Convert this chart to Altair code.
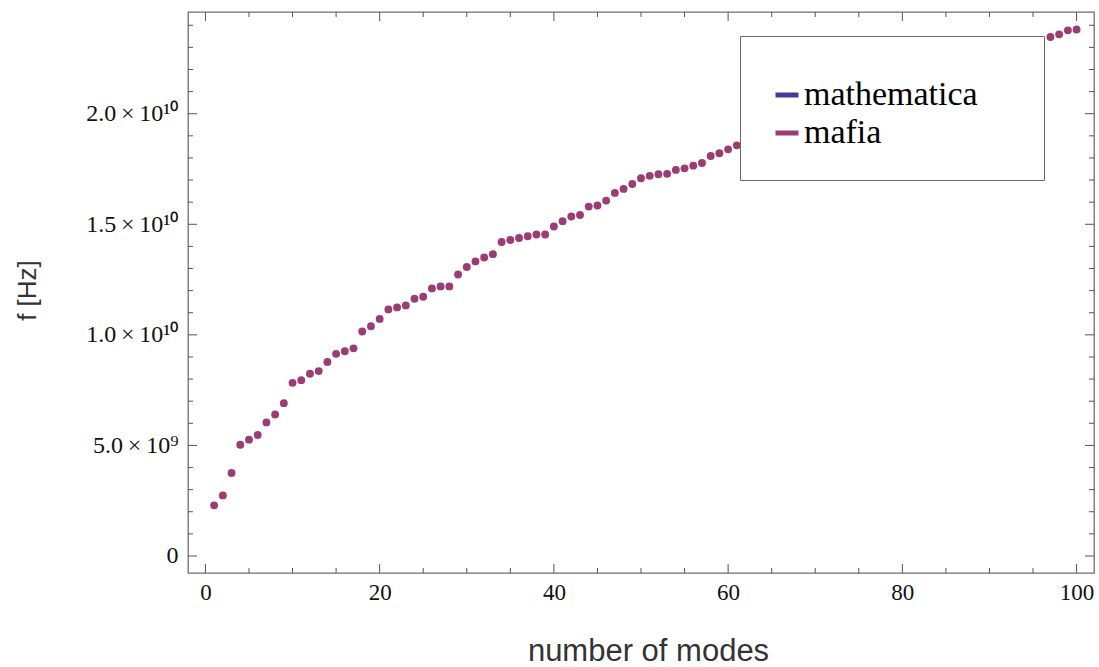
import altair as alt
import pandas as pd

# ---- data ----
modes = list(range(1, 62)) + [97, 98, 99, 100]
freq_hz = [
    2.29e9, 2.74e9, 3.75e9, 5.03e9, 5.26e9, 5.47e9, 6.04e9, 6.40e9, 6.91e9, 7.83e9,
    7.95e9, 8.24e9, 8.36e9, 8.77e9, 9.14e9, 9.26e9, 9.39e9, 10.15e9, 10.39e9, 10.72e9,
    11.15e9, 11.24e9, 11.33e9, 11.63e9, 11.72e9, 12.10e9, 12.19e9, 12.19e9, 12.73e9, 13.07e9,
    13.32e9, 13.50e9, 13.65e9, 14.20e9, 14.29e9, 14.38e9, 14.46e9, 14.54e9, 14.54e9, 14.90e9,
    15.14e9, 15.35e9, 15.42e9, 15.80e9, 15.85e9, 16.07e9, 16.42e9, 16.60e9, 16.82e9, 17.08e9,
    17.19e9, 17.26e9, 17.28e9, 17.46e9, 17.53e9, 17.65e9, 17.77e9, 18.09e9, 18.21e9, 18.39e9,
    18.57e9,
    23.47e9, 23.59e9, 23.77e9, 23.81e9,
]
series_names = ["mathematica", "mafia"]
series_colors = ["#3F3D99", "#993D74"]

x_major = [0, 20, 40, 60, 80, 100]
x_minor = [5, 10, 15, 25, 30, 35, 45, 50, 55, 65, 70, 75, 85, 90, 95]
y_major = [0, 5e9, 1e10, 1.5e10, 2e10]
y_minor = [1e9, 2e9, 3e9, 4e9, 6e9, 7e9, 8e9, 9e9, 11e9, 12e9, 13e9, 14e9,
           16e9, 17e9, 18e9, 19e9, 21e9, 22e9, 23e9, 24e9]
y_tick_labels = ["0", "5.0\u2009\u00d7\u200910\u2079", "1.0\u2009\u00d7\u200910\u00b9\u2070",
                 "1.5\u2009\u00d7\u200910\u00b9\u2070", "2.0\u2009\u00d7\u200910\u00b9\u2070"]

# ---- layout ----
W, H = 906, 561
XDOM = [-2.0, 102.0]
YDOM = [-0.77e9, 24.6e9]
MAJ, MIN = 9, 5
TICK_COLOR = "#555555"
SERIF = "Liberation Serif"
SANS = "Liberation Sans"

xs = alt.Scale(domain=XDOM, nice=False, zero=False)
ys = alt.Scale(domain=YDOM, nice=False, zero=False)

label_expr = " : ".join(
    f"datum.value == {v} ? '{t}'" for v, t in zip(y_major, y_tick_labels)
) + " : ''"

x_axis = alt.Axis(
    values=x_major, ticks=False, domain=False, grid=False,
    labelFont=SERIF, labelFontSize=23, labelColor="#111111", labelPadding=8,
    title="number of modes", titleFont=SANS, titleFontSize=31, titleFontWeight="normal",
    titleColor="#333333", titleX=460, titleY=78, titleBaseline="middle", titleAlign="center")
y_axis = alt.Axis(
    values=y_major, labelExpr=label_expr, ticks=False, domain=False, grid=False,
    labelFont=SERIF, labelFontSize=24, labelColor="#111111", labelPadding=10,
    title="f [Hz]", titleFont=SANS, titleFontSize=26, titleFontWeight="normal",
    titleColor="#333333", titleX=-161, titleY=278, titleAngle=-90,
    titleBaseline="middle", titleAlign="center")

points_df = pd.DataFrame({"mode": modes, "f": freq_hz})

points = alt.Chart(points_df).mark_circle(size=62, opacity=1, color=series_colors[1]).encode(
    x=alt.X("mode:Q", scale=xs, axis=x_axis),
    y=alt.Y("f:Q", scale=ys, axis=y_axis),
)

legend_df = pd.DataFrame({"series": series_names, "mode": [1, 1], "f": [0, 0]})
blank = "\u2800"
legend_layer = alt.Chart(legend_df).mark_line(strokeWidth=5).encode(
    x=alt.X("mode:Q", scale=xs, axis=x_axis),
    y=alt.Y("f:Q", scale=ys, axis=y_axis),
    color=alt.Color("series:N", scale=alt.Scale(domain=series_names, range=series_colors),
                    legend=alt.Legend(
                        orient="none", legendX=552, legendY=24,
                        title=blank * 26, titleFont="DejaVu Sans", titleFontSize=12,
                        titlePadding=0, titleLimit=2000,
                        symbolType="stroke", symbolSize=529, symbolStrokeWidth=5,
                        labelFont=SERIF, labelFontSize=34, labelColor="#000000",
                        labelOffset=0, rowPadding=4, padding=30, labelLimit=500,
                        fillColor="#ffffff", strokeColor="#6b6b6b")),
).transform_filter("false")


def vticks(vals, length, side):
    df = pd.DataFrame({"mode": vals})
    if side == "bottom":
        enc = dict(x=alt.X("mode:Q", scale=xs, axis=x_axis), y=alt.value(H), y2=alt.value(H - length))
    else:  # top
        enc = dict(x=alt.X("mode:Q", scale=xs, axis=x_axis), y=alt.value(0), y2=alt.value(length))
    return alt.Chart(df).mark_rule(color=TICK_COLOR, strokeWidth=1).encode(**enc)


def hticks(vals, length, side):
    df = pd.DataFrame({"f": vals})
    if side == "left":
        enc = dict(y=alt.Y("f:Q", scale=ys, axis=y_axis), x=alt.value(0), x2=alt.value(length))
    else:  # right
        enc = dict(y=alt.Y("f:Q", scale=ys, axis=y_axis), x=alt.value(W), x2=alt.value(W - length))
    return alt.Chart(df).mark_rule(color=TICK_COLOR, strokeWidth=1).encode(**enc)


ticks = [
    vticks(x_major, MAJ, "bottom"), vticks(x_minor, MIN, "bottom"),
    vticks(x_major, MAJ, "top"), vticks(x_minor, MIN, "top"),
    hticks(y_major, MAJ, "left"), hticks(y_minor, MIN, "left"),
    hticks(y_major, MAJ, "right"), hticks(y_minor, MIN, "right"),
]

chart = alt.layer(points, *ticks, legend_layer).properties(
    width=W, height=H,
    background="white",
    autosize=alt.AutoSizeParams(type="none"),
    padding={"left": 188, "top": 12, "right": 5, "bottom": 94},
).configure_view(stroke="#6e6e6e", strokeWidth=1.3)

chart.save("out.html", embed_options={"renderer": "svg", "actions": False})
